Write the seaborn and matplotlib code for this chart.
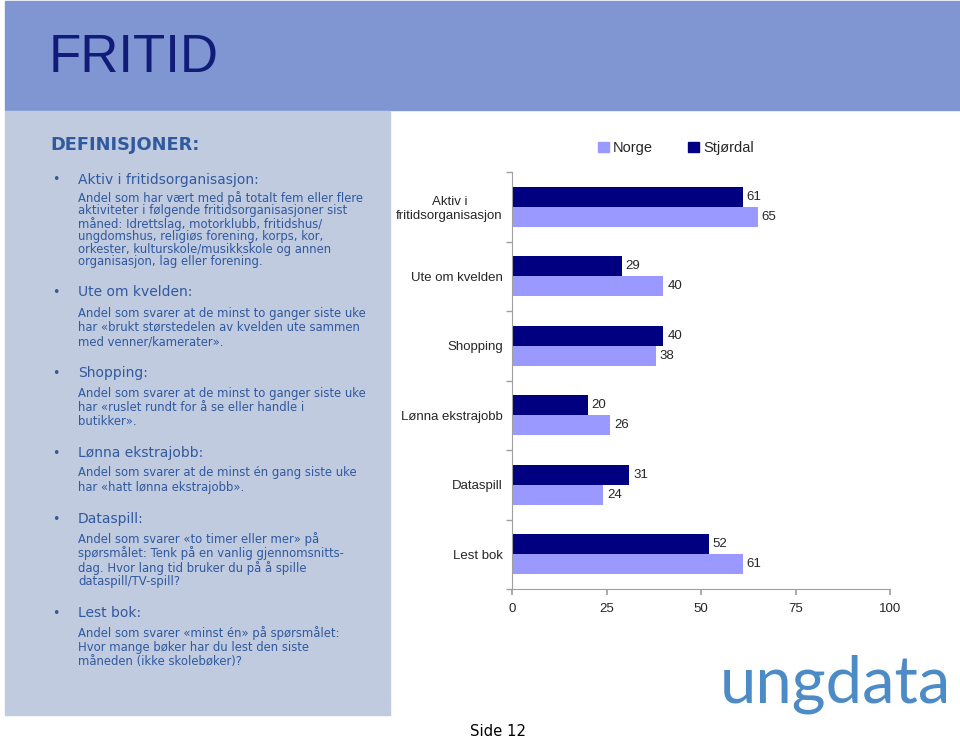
import pandas as pd
import numpy as np
import matplotlib.pyplot as plt
import matplotlib.patches as mpatches
from matplotlib.ticker import FixedLocator
import seaborn as sns

# ── DATA ──────────────────────────────────────────────────────────────────────
categories = ["Aktiv i\nfritidsorganisasjon", "Ute om kvelden", "Shopping",
              "Lønna ekstrajobb", "Dataspill", "Lest bok"]
stjordal = [61, 29, 40, 20, 31, 52]
norge    = [65, 40, 38, 26, 24, 61]
x_ticks  = [0, 25, 50, 75, 100]

headings = ["Aktiv i fritidsorganisasjon:", "Ute om kvelden:", "Shopping:",
            "Lønna ekstrajobb:", "Dataspill:", "Lest bok:"]
bodies = [
    ["Andel som har vært med på totalt fem eller flere",
     "aktiviteter i følgende fritidsorganisasjoner sist",
     "måned: Idrettslag, motorklubb, fritidshus/",
     "ungdomshus, religiøs forening, korps, kor,",
     "orkester, kulturskole/musikkskole og annen",
     "organisasjon, lag eller forening."],
    ["Andel som svarer at de minst to ganger siste uke",
     "har «brukt størstedelen av kvelden ute sammen",
     "med venner/kamerater»."],
    ["Andel som svarer at de minst to ganger siste uke",
     "har «ruslet rundt for å se eller handle i",
     "butikker»."],
    ["Andel som svarer at de minst én gang siste uke",
     "har «hatt lønna ekstrajobb»."],
    ["Andel som svarer «to timer eller mer» på",
     "spørsmålet: Tenk på en vanlig gjennomsnitts-",
     "dag. Hvor lang tid bruker du på å spille",
     "dataspill/TV-spill?"],
    ["Andel som svarer «minst én» på spørsmålet:",
     "Hvor mange bøker har du lest den siste",
     "måneden (ikke skolebøker)?"],
]

# ── LAYOUT (pixels of the 960x739 slide) ──────────────────────────────────────
W, H = 960, 739
heading_y = [180, 292, 373, 453, 519, 613]
body_y    = [198, 313, 393, 473, 539, 633]
body_step = [12.8, 14.3, 14.3, 14.3, 14.3, 14.3]

DARK   = "#000080"
LIGHT  = "#9999FF"
HEADER = "#7F96D3"
PANEL  = "#C1CBE0"
TXT    = "#30599E"

def fx(px):
    return px / W

def fy(px):
    return 1 - px / H

sns.set_theme(style="white")
plt.rcParams["font.family"] = ["Liberation Sans", "DejaVu Sans"]

fig = plt.figure(figsize=(9.6, 7.39), dpi=100)

# background blocks
fig.patches.append(mpatches.Rectangle((fx(5), fy(110)), fx(955), 109 / H,
                                      transform=fig.transFigure, color=HEADER, zorder=0))
fig.patches.append(mpatches.Rectangle((fx(5), fy(715)), fx(385), 604 / H,
                                      transform=fig.transFigure, color=PANEL, zorder=0))

fig.text(fx(49), fy(72), "FRITID", fontsize=38, color="#101C78",
         va="baseline", ha="left")

# left definitions panel
fig.text(fx(50), fy(145), "DEFINISJONER:", fontsize=12.8, fontweight="bold",
         color=TXT, va="center", family="DejaVu Sans")
for head, hy, lines, by, step in zip(headings, heading_y, bodies, body_y, body_step):
    fig.text(fx(52), fy(hy), "•", fontsize=9, color=TXT, va="center", family="DejaVu Sans")
    fig.text(fx(78), fy(hy), head, fontsize=10, color=TXT, va="center", family="DejaVu Sans")
    for i, line in enumerate(lines):
        fig.text(fx(78), fy(by + i * step), line, fontsize=8.4, color=TXT,
                 va="center", family="DejaVu Sans")

# ── CHART ─────────────────────────────────────────────────────────────────────
df = pd.DataFrame({
    "kategori": categories * 2,
    "verdi": stjordal + norge,
    "gruppe": ["Stjørdal"] * len(categories) + ["Norge"] * len(categories),
})

ax = fig.add_axes([fx(512), fy(589), fx(890) - fx(512), (589 - 172) / H])
sns.barplot(data=df, y="kategori", x="verdi", hue="gruppe",
            hue_order=["Stjørdal", "Norge"], palette=[DARK, LIGHT],
            orient="h", width=0.58, ax=ax, legend=False, saturation=1,
            linewidth=0)

for cont in ax.containers:
    ax.bar_label(cont, fmt="%d", padding=3, fontsize=9.5)

ax.set_xlim(0, 100)
ax.set_ylim(len(categories) - 0.5, -0.5)
ax.set_xticks(x_ticks)
ax.set_xlabel("")
ax.set_ylabel("")
ax.set_facecolor("none")
for lbl in ax.get_yticklabels():
    lbl.set_multialignment("center")
ax.yaxis.set_minor_locator(FixedLocator(np.arange(-0.5, len(categories), 1.0)))
ax.tick_params(axis="y", which="major", length=0, pad=6.5, labelsize=9.5)
ax.tick_params(axis="y", which="minor", length=4, color="#A0A0A0", left=True)
ax.tick_params(axis="x", length=4, color="#A0A0A0", pad=6, labelsize=9.5, bottom=True)
for side in ["top", "right"]:
    ax.spines[side].set_visible(False)
for side in ["left", "bottom"]:
    ax.spines[side].set_color("#A0A0A0")
    ax.spines[side].set_linewidth(0.8)

handles = [mpatches.Patch(color=LIGHT, label="Norge"),
           mpatches.Patch(color=DARK, label="Stjørdal")]
fig.legend(handles=handles, loc="center", bbox_to_anchor=(fx(676), fy(148)),
           ncol=2, frameon=False, fontsize=10.5, handlelength=0.75, handleheight=0.75,
           handletextpad=0.3, columnspacing=2.4)

# footer
fig.text(fx(720), fy(703), "ungdata", fontsize=47, color="#4C8BC6",
         family=["Lato", "DejaVu Sans"], fontweight="normal", va="baseline")
fig.text(fx(470), fy(732), "Side 12", fontsize=10.7, color="black",
         family="DejaVu Sans", va="center")

fig.savefig("out.png", dpi=100, facecolor="white")
